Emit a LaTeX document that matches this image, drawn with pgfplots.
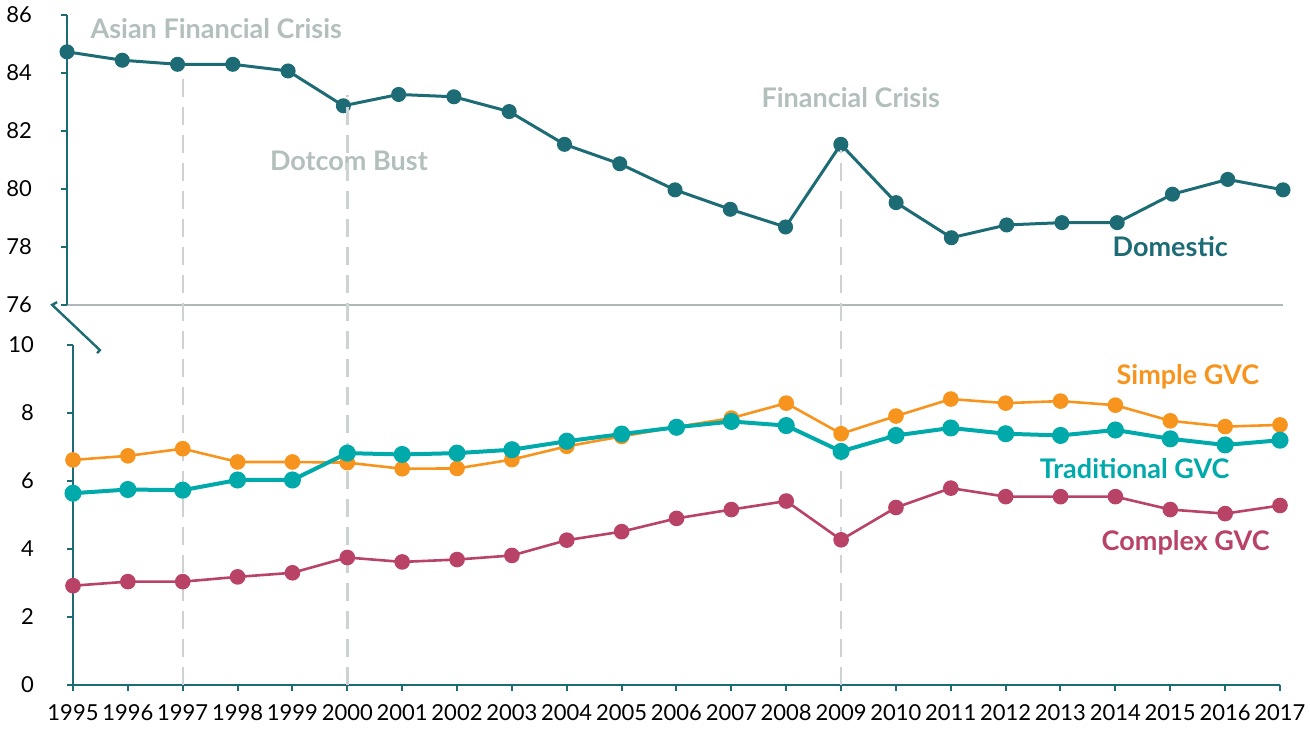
\documentclass[border=0pt]{standalone}
\usepackage{fontspec}
\setmainfont{Lato}
\usepackage{pgfplots}
\pgfplotsset{compat=1.18}
\definecolor{dom}{HTML}{1D6B74}
\definecolor{simp}{HTML}{F7941E}
\definecolor{trad}{HTML}{00A9AA}
\definecolor{comp}{HTML}{B84367}
\definecolor{annot}{HTML}{B3BFBD}
\definecolor{base}{HTML}{AEBAB9}
\definecolor{dashc}{HTML}{CDD3D3}
\pgfplotsset{
  common/.style={
    scale only axis, anchor=south west,
    xmin=1995, xmax=2017,
    axis lines=left,
    x axis line style={-},
    y axis line style={-, dom, line width=1.4pt},
    tick align=outside,
    major tick length=3pt,
    y tick style={dom, line width=1pt},
    x tick style={dom, line width=1pt},
    ticklabel style={font=\fontsize{11}{13}\selectfont, text=black},
    /pgf/number format/assume math mode=true,
    /pgf/number format/1000 sep={},
    clip=false,
  }
}
\begin{document}
\begin{tikzpicture}
\path[use as bounding box] (0pt,0pt) rectangle (655pt,364pt);
% top axis: Domestic
\begin{axis}[common,
  at={(33.5pt,211.5pt)}, width=608pt, height=145pt,
  ymin=76, ymax=86, ytick={76,78,...,86},
  xtick=\empty,
  x axis line style={-, base, line width=1.2pt},
  yticklabel style={xshift=-11pt},
]
\addplot[dom, line width=1.5pt, mark=*, mark size=3pt, mark options={solid, fill=dom, draw=dom}] coordinates {
(1995,84.73) (1996,84.44) (1997,84.30) (1998,84.30) (1999,84.07) (2000,82.87)
(2001,83.26) (2002,83.18) (2003,82.67) (2004,81.54) (2005,80.87) (2006,79.97)
(2007,79.30) (2008,78.69) (2009,81.54) (2010,79.53) (2011,78.32) (2012,78.76)
(2013,78.84) (2014,78.84) (2015,79.82) (2016,80.33) (2017,79.97)};
\node[annot, font=\fontsize{13.5}{15}\selectfont\bfseries] at (axis cs:1997.70,85.52) {Asian Financial Crisis};
\node[annot, font=\fontsize{13.5}{15}\selectfont\bfseries] at (axis cs:2000.10,80.97) {Dotcom Bust};
\node[annot, font=\fontsize{13.5}{15}\selectfont\bfseries] at (axis cs:2009.18,83.14) {Financial Crisis};
\node[dom, font=\fontsize{13.5}{15}\selectfont\bfseries] at (axis cs:2014.96,78.0) {Domestic};
\end{axis}
% bottom axis: GVC
\begin{axis}[common,
  at={(36.5pt,21.5pt)}, width=603.5pt, height=170pt,
  ymin=0, ymax=10, ytick={0,2,...,10},
  xtick={1995,...,2017},
  x axis line style={-, dom, line width=1.4pt},
  yticklabel style={xshift=-13pt},
  xticklabel style={yshift=-3pt},
]
\draw[dashc, line width=1.2pt, dash pattern=on 9pt off 5pt] (axis cs:1997,0) -- (axis cs:1997,18.09);
\draw[dashc, line width=1.2pt, dash pattern=on 9pt off 5pt] (axis cs:2000,0) -- (axis cs:2000,17.35);
\draw[dashc, line width=1.2pt, dash pattern=on 9pt off 5pt] (axis cs:2009,0) -- (axis cs:2009,15.74);
\draw[dom, line width=1.2pt] (axis cs:1994.71,11.26) -- (axis cs:1994.62,11.18) -- (axis cs:1995.49,9.85) -- (axis cs:1995.44,9.76);
\addplot[simp, line width=1.3pt, mark=*, mark size=3.25pt, mark options={solid, fill=simp, draw=simp}] coordinates {
(1995,6.62) (1996,6.74) (1997,6.95) (1998,6.56) (1999,6.56) (2000,6.54)
(2001,6.36) (2002,6.37) (2003,6.63) (2004,7.02) (2005,7.31) (2006,7.59)
(2007,7.85) (2008,8.29) (2009,7.39) (2010,7.91) (2011,8.41) (2012,8.29)
(2013,8.35) (2014,8.23) (2015,7.77) (2016,7.60) (2017,7.65)};
\addplot[trad, line width=2pt, mark=*, mark size=3.25pt, mark options={solid, fill=trad, draw=trad}] coordinates {
(1995,5.64) (1996,5.75) (1997,5.73) (1998,6.03) (1999,6.03) (2000,6.82)
(2001,6.78) (2002,6.82) (2003,6.92) (2004,7.17) (2005,7.38) (2006,7.58)
(2007,7.75) (2008,7.63) (2009,6.87) (2010,7.34) (2011,7.56) (2012,7.39)
(2013,7.34) (2014,7.50) (2015,7.24) (2016,7.06) (2017,7.20)};
\addplot[comp, line width=1.3pt, mark=*, mark size=3.25pt, mark options={solid, fill=comp, draw=comp}] coordinates {
(1995,2.92) (1996,3.04) (1997,3.04) (1998,3.18) (1999,3.30) (2000,3.75)
(2001,3.62) (2002,3.69) (2003,3.81) (2004,4.26) (2005,4.51) (2006,4.90)
(2007,5.16) (2008,5.41) (2009,4.27) (2010,5.22) (2011,5.79) (2012,5.54)
(2013,5.54) (2014,5.54) (2015,5.16) (2016,5.04) (2017,5.28)};
\node[simp, font=\fontsize{13.5}{15}\selectfont\bfseries] at (axis cs:2015.32,9.06) {Simple GVC};
\node[trad, font=\fontsize{13.5}{15}\selectfont\bfseries] at (axis cs:2014.35,6.38) {Traditional GVC};
\node[comp, font=\fontsize{13.5}{15}\selectfont\bfseries] at (axis cs:2015.28,4.18) {Complex GVC};
\end{axis}
\end{tikzpicture}
\end{document}
